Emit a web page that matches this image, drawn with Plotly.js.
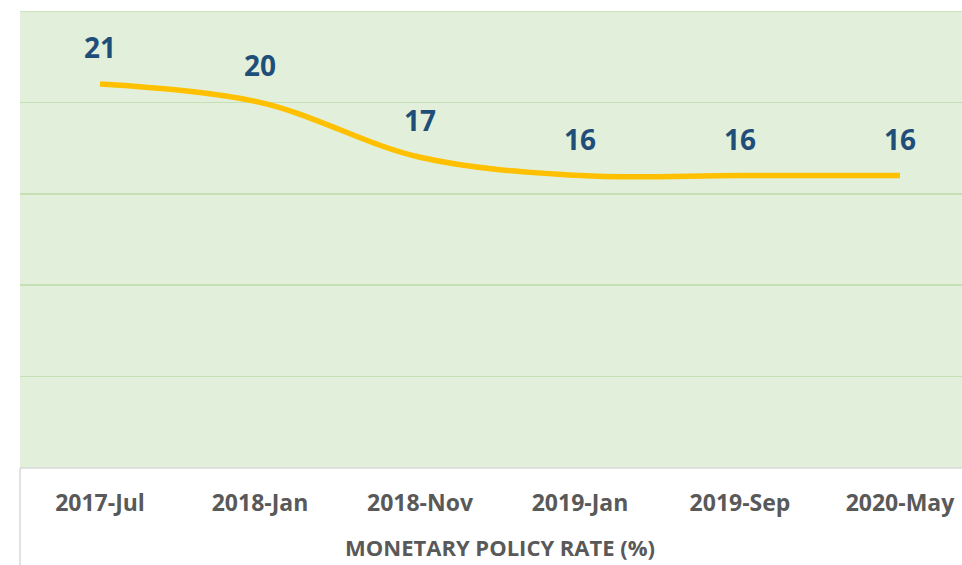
<!DOCTYPE html>
<html>
<head>
<meta charset="utf-8">
<script src="https://cdn.plot.ly/plotly-3.0.1.min.js"></script>
<style>html,body{margin:0;padding:0;background:#fff;}#chart{width:962px;height:565px;}</style>
</head>
<body>
<div id="chart"></div>
<script>
const categories = ["2017-Jul", "2018-Jan", "2018-Nov", "2019-Jan", "2019-Sep", "2020-May"];
const rates = [21, 20, 17, 16, 16, 16];
const labels = ["21", "20", "17", "16", "16", "16"];
const titleText = "MONETARY POLICY RATE (%)";

const trace = {
  x: categories,
  y: rates,
  type: "scatter",
  mode: "lines",
  line: {color: "#FFC000", width: 5.5, shape: "spline", smoothing: 1},
  hoverinfo: "skip"
};

const annotations = categories.map((c, i) => ({
  x: c, y: rates[i], xref: "x", yref: "y",
  text: "<b>" + labels[i] + "</b>", showarrow: false, yshift: 37,
  font: {family: "Open Sans, sans-serif", size: 28, color: "#1F4E79"}
}));
annotations.push({
  xref: "paper", yref: "paper", x: 0.5096, y: -0.173, xanchor: "center", yanchor: "middle",
  text: "<b>" + titleText + "</b>", showarrow: false,
  font: {family: "Open Sans, sans-serif", size: 22, color: "#595959"}
});

const layout = {
  width: 962, height: 565,
  margin: {l: 20, r: 0, t: 11, b: 97, pad: 0},
  paper_bgcolor: "#FFFFFF",
  plot_bgcolor: "#E2EFDA",
  showlegend: false,
  xaxis: {
    type: "category",
    range: [-0.5, 5.3875],
    showgrid: false, zeroline: false, showline: false,
    ticks: "",
    tickfont: {family: "Open Sans, sans-serif", size: 23, color: "#595959", weight: 700},
    ticklabelstandoff: 19,
    fixedrange: true
  },
  yaxis: {
    range: [0, 25],
    dtick: 5,
    showticklabels: false,
    showgrid: true, gridcolor: "#C5E0B4", gridwidth: 1.5,
    zeroline: false, showline: false, ticks: "",
    fixedrange: true
  },
  shapes: [
    {type: "line", xref: "paper", yref: "paper", x0: 0, x1: 1, y0: 0, y1: 0, line: {color: "#D9D9D9", width: 1.5}},
    {type: "line", xref: "paper", yref: "paper", x0: 0, x1: 0, y0: 0, y1: -0.22, line: {color: "#D9D9D9", width: 1.5}},
    {type: "line", xref: "paper", yref: "y", x0: 0, x1: 1, y0: 25, y1: 25, line: {color: "#C5E0B4", width: 1.5}}
  ],
  annotations: annotations
};

Plotly.newPlot("chart", [trace], layout, {displayModeBar: false, staticPlot: true});
</script>
</body>
</html>
